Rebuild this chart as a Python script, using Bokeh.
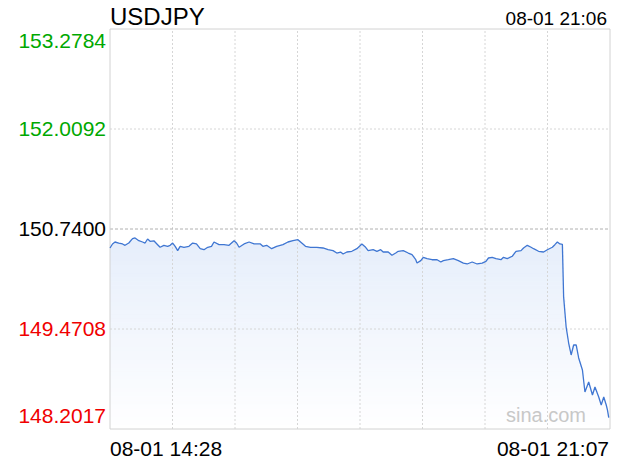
import numpy as np
import pandas as pd
from bokeh.plotting import figure
from bokeh.models import Range1d, Label
from bokeh.embed import file_html
from bokeh.resources import INLINE

# ---------------- data ----------------
symbol = "USDJPY"
update_label = "08-01 21:06"
trade_date = "2025-08-01"
session_start = "14:28"
session_end = "21:07"
x_start_label = "08-01 14:28"
x_end_label = "08-01 21:07"
prev_close = 150.7400
y_ticks = [153.2784, 152.0092, 150.7400, 149.4708, 148.2017]
y_tick_labels = ["153.2784", "152.0092", "150.7400", "149.4708", "148.2017"]
y_tick_colors = ["#00a800", "#00a800", "#000000", "#f00000", "#f00000"]
watermark = "sina.com"

times = [
    "14:28", "14:30", "14:32", "14:35", "14:38", "14:40", "14:43", "14:46", "14:48", "14:51",
    "14:54", "14:56", "14:58", "15:00", "15:03", "15:06", "15:08", "15:11", "15:14", "15:16",
    "15:18", "15:20", "15:22", "15:24", "15:27", "15:31", "15:34", "15:37", "15:40", "15:43",
    "15:46", "15:49", "15:51", "15:55", "15:59", "16:03", "16:07", "16:09", "16:11", "16:15",
    "16:19", "16:23", "16:28", "16:30", "16:33", "16:37", "16:41", "16:46", "16:50", "16:54",
    "16:58", "17:01", "17:04", "17:08", "17:13", "17:18", "17:22", "17:26", "17:29", "17:32",
    "17:34", "17:37", "17:41", "17:45", "17:49", "17:52", "17:54", "17:58", "18:01", "18:04",
    "18:06", "18:10", "18:13", "18:16", "18:18", "18:22", "18:26", "18:29", "18:32", "18:33",
    "18:36", "18:38", "18:41", "18:45", "18:49", "18:52", "18:54", "18:58", "19:02", "19:06",
    "19:10", "19:13", "19:17", "19:21", "19:25", "19:28", "19:30", "19:33", "19:36", "19:40",
    "19:42", "19:45", "19:49", "19:52", "19:56", "19:58", "20:01", "20:04", "20:06", "20:10",
    "20:14", "20:17", "20:21", "20:23", "20:25", "20:27", "20:29", "20:30", "20:32", "20:34",
    "20:36", "20:38", "20:40", "20:42", "20:45", "20:47", "20:50", "20:53", "20:55", "20:58",
    "21:00", "21:02", "21:04", "21:05", "21:06",
]
prices = [
    150.499, 150.550, 150.575, 150.562, 150.550, 150.533, 150.562, 150.617, 150.626, 150.592,
    150.575, 150.562, 150.613, 150.584, 150.590, 150.541, 150.508, 150.533, 150.520, 150.533,
    150.562, 150.520, 150.465, 150.520, 150.508, 150.520, 150.562, 150.550, 150.490, 150.477,
    150.508, 150.520, 150.575, 150.541, 150.541, 150.533, 150.592, 150.562, 150.508, 150.550,
    150.575, 150.550, 150.550, 150.520, 150.533, 150.490, 150.520, 150.541, 150.575, 150.592,
    150.604, 150.562, 150.520, 150.508, 150.508, 150.499, 150.477, 150.465, 150.435, 150.448,
    150.423, 150.448, 150.457, 150.490, 150.550, 150.508, 150.465, 150.477, 150.457, 150.477,
    150.448, 150.448, 150.406, 150.435, 150.457, 150.465, 150.435, 150.414, 150.350, 150.308,
    150.338, 150.381, 150.363, 150.350, 150.350, 150.321, 150.338, 150.350, 150.363, 150.338,
    150.308, 150.296, 150.321, 150.296, 150.308, 150.330, 150.372, 150.381, 150.363, 150.350,
    150.381, 150.363, 150.394, 150.457, 150.465, 150.499, 150.533, 150.508, 150.490, 150.457,
    150.448, 150.477, 150.508, 150.541, 150.575, 150.550, 150.545, 149.877, 149.496, 149.293,
    149.141, 149.268, 149.268, 149.103, 148.950, 148.671, 148.798, 148.633, 148.735, 148.608,
    148.506, 148.608, 148.506, 148.440, 148.345,
]

# ---------------- derived ----------------
t0 = pd.Timestamp(f"{trade_date} {session_start}")
t1 = pd.Timestamp(f"{trade_date} {session_end}")
x = np.array([(pd.Timestamp(f"{trade_date} {t}") - t0).total_seconds() / 60 for t in times])
y = np.array(prices)
x_end = (t1 - t0).total_seconds() / 60
y_top, y_bot = y_ticks[0], y_ticks[-1] - 0.0001

# canvas layout: chart box occupies pixels [109.5, 609.5] x [28.5, 428.5]
W, H = 620, 460
BL, BR, BT, BB = 109.5, 609.5, 28.5, 428.5
sx = x_end / (BR - BL)
sy = (y_top - y_bot) / (BB - BT)
xr = Range1d(-BL * sx, -BL * sx + W * sx)
yr_end = y_top + BT * sy
yr = Range1d(yr_end - H * sy, yr_end)

FONT = "Liberation Sans"

p = figure(width=W, height=H, output_backend="svg", toolbar_location=None,
           x_axis_location=None, y_axis_location=None, x_range=xr, y_range=yr,
           min_border=0)
p.outline_line_color = None
p.background_fill_color = "white"
p.border_fill_color = "white"
for g in p.grid:
    g.visible = False

# gradient area under the line, built from horizontal bands
n_bands = 48
levels = np.linspace(y_bot, 150.70, n_bands + 1)
for i in range(n_bands):
    lo, hi = levels[i], levels[i + 1]
    frac = (i + 0.5) / n_bands
    p.varea(x=x, y1=np.full_like(y, lo), y2=np.clip(y, lo, hi),
            fill_color="#3d7be0", fill_alpha=0.135 * frac)

# grid
vx = [x_end * k / 8 for k in range(1, 8)]
p.segment(x0=vx, y0=[y_bot] * 7, x1=vx, y1=[y_top] * 7,
          line_color="#d6d6d6", line_dash="2 2", line_width=1)
hy = [y_ticks[1], y_ticks[3]]
p.segment(x0=[0, 0], y0=hy, x1=[x_end, x_end], y1=hy,
          line_color="#d6d6d6", line_dash="2 2", line_width=1)
p.segment(x0=[0], y0=[prev_close], x1=[x_end], y1=[prev_close],
          line_color="#b0b0b0", line_dash="3 2", line_width=1)

# chart box
p.quad(left=[0], right=[x_end], bottom=[y_bot], top=[y_top], fill_color=None,
       line_color="#d2d2d2", line_width=1)

p.line(x, y, line_color="#3f76d2", line_width=1.3)


def add_text(xv, yv, txt, align, color, size, dx=0, dy=0):
    p.add_layout(Label(x=xv, y=yv, x_offset=dx, y_offset=dy, text=txt, text_align=align,
                       text_baseline="middle", text_color=color, text_font=FONT,
                       text_font_size=size))


# y labels (top one hangs below the box top, bottom one sits above the box bottom)
y_label_dy = [-11.5, 0, 0, 0, 13]
for v, txt, col, dy in zip(y_ticks, y_tick_labels, y_tick_colors, y_label_dy):
    add_text(0, v, txt, "right", col, "21px", dx=-4, dy=dy)

add_text(0, y_top, symbol, "left", "#000000", "24px", dx=0, dy=12.5)
add_text(x_end, y_top, update_label, "right", "#000000", "19px", dx=-3, dy=11)
add_text(0, y_bot, x_start_label, "left", "#000000", "21px", dx=0, dy=-19)
add_text(x_end, y_bot, x_end_label, "right", "#000000", "21px", dx=-1, dy=-19)
add_text(x_end, y_bot, watermark, "right", "#c8c8c8", "20px", dx=-24, dy=14.5)

open("out.html", "w").write(file_html(p, INLINE))
